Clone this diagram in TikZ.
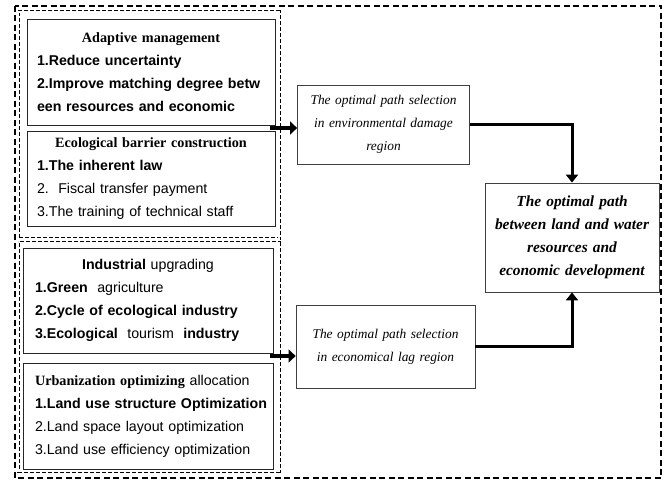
\documentclass[tikz,border=0pt]{standalone}
\usepackage{fontspec}
\setmainfont{Liberation Serif}
\setsansfont{Liberation Sans}
\usetikzlibrary{arrows.meta, positioning}

% centred serif heading inside a list box
\newcommand{\listhead}[1]{\makebox[\linewidth]{\rmfamily\bfseries #1}}
% a line spread over the whole box width
\newcommand{\fullline}[1]{\makebox[\linewidth][s]{#1}}

\begin{document}
\begin{tikzpicture}[x=1pt, y=-1pt,
  listbox/.style={draw=black!85, line width=0.8pt, text width=228pt, inner xsep=10pt,
    inner ysep=0pt, align=left, font=\sffamily\fontsize{14.2}{23}\selectfont},
  pathbox/.style={draw=black!75, line width=0.8pt, text width=166pt, inner sep=3pt,
    align=center, font=\rmfamily\itshape\fontsize{13.4}{23}\selectfont},
  fatarrow/.style={line width=4.5pt, -{Triangle[length=7pt, width=13pt]}},
  elbow/.style={line width=3pt, -{Triangle[length=8pt, width=12pt]}},
  groupbox/.style={dashed, dash pattern=on 4pt off 2pt, double, double distance=1.6pt, line width=0.7pt}]

  \useasboundingbox (0,0) rectangle (666,486);

  % outer frame and the two groups
  \draw[line width=1.1pt, dash pattern=on 6pt off 3.5pt] (15,6) rectangle (661,478);
  \draw[groupbox] (18,12) rectangle (279,239);
  \draw[groupbox] (18,243) rectangle (279,471);

  % measures
  \node[listbox, minimum height=106pt] (adapt) at (151,72) {%
    \listhead{Adaptive management}\\
    \textbf{1.Reduce uncertainty}\\
    \fullline{\textbf{2.Improve matching degree betw}}\\
    \textbf{een resources and economic}};
  \node[listbox, minimum height=95pt] (barrier) at (151,178.5) {%
    \listhead{Ecological barrier construction}\\
    \textbf{1.The inherent law}\\
    2.\ \ Fiscal transfer payment\\
    3.The training of technical staff};
  \node[listbox, text width=226pt, inner xsep=12pt, minimum height=105pt] (industry) at (148,300.5) {%
    \makebox[\linewidth]{\textbf{Industrial} upgrading}\\
    \textbf{1.Green} \ agriculture\\
    \textbf{2.Cycle of ecological industry}\\
    \textbf{3.Ecological} \ tourism \ \textbf{industry}};
  \node[listbox, text width=226pt, inner xsep=12pt, minimum height=106pt] (urban) at (148,416) {%
    {\rmfamily\bfseries Urbanization optimizing} allocation\\
    \fullline{\textbf{1.Land use structure Optimization}}\\
    2.Land space layout optimization\\
    3.Land use efficiency optimization};

  % path selections
  \node[pathbox, minimum width=171pt, minimum height=79pt] (damage) at (383.5,124.5) {%
    The optimal path selection\\ in environmental damage\\ region};
  \node[pathbox, minimum width=179pt, minimum height=83pt] (lag) at (385.5,346.5) {%
    The optimal path selection\\ in economical lag region};
  \node[pathbox, font=\rmfamily\bfseries\itshape\fontsize{15.4}{23}\selectfont,
    minimum width=174pt, minimum height=109pt] (goal) at (572,237.5) {%
    The optimal path\\ between land and water\\ resources and\\ economic development};

  % connectors
  \coordinate (upper) at (270,128);
  \coordinate (lower) at (270,356);
  \draw[fatarrow] (upper) -- (upper -| damage.west);
  \draw[fatarrow] (lower) -- (lower -| lag.west);
  \draw[elbow] (damage.east) -| (goal.north);
  \draw[elbow] (lag.east) -| (goal.south);
\end{tikzpicture}
\end{document}
